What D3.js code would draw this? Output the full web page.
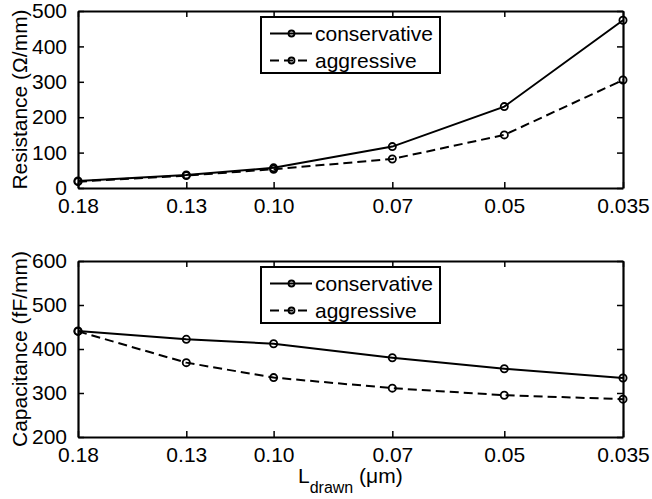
<!DOCTYPE html>
<html>
<head>
<meta charset="utf-8">
<script src="https://cdn.jsdelivr.net/npm/d3@7"></script>
<style>
  html, body { margin: 0; padding: 0; background: #fff; }
  svg { display: block; font-family: "Liberation Sans", Arial, Helvetica, sans-serif; }
</style>
</head>
<body>
<svg id="chart" width="652" height="499"></svg>
<script>
// ---- data ----
const lengths = [0.18, 0.13, 0.10, 0.07, 0.05, 0.035];
const xTickLabels = ["0.18", "0.13", "0.10", "0.07", "0.05", "0.035"];
const seriesNames = ["conservative", "aggressive"];
const resistanceConservative = [20, 37, 57, 117, 230, 474];
const resistanceAggressive = [18, 35, 53, 82, 150, 305];
const capacitanceConservative = [441, 422, 412, 380, 355, 334];
const capacitanceAggressive = [440, 369, 335, 311, 295, 286];
const resistanceTicks = [0, 100, 200, 300, 400, 500];
const capacitanceTicks = [200, 300, 400, 500, 600];

const FS = 21;
const svg = d3.select("#chart");
const left = 78, right = 623;
const x = d3.scaleLog().domain([0.18, 0.035]).range([left, right]);

function panel(cfg) {
  const { top, bottom, yDomain, yTicks, cons, aggr, yLabel, legendY } = cfg;
  const y = d3.scaleLinear().domain(yDomain).range([bottom, top]);
  const g = svg.append("g");
  const tickLen = 6;

  // lines
  const line = d3.line().x((d, i) => x(lengths[i])).y(d => y(d));
  const styles = [{ data: cons, dash: null }, { data: aggr, dash: "9,5" }];
  styles.forEach(s => {
    g.append("path").datum(s.data).attr("d", line)
      .attr("fill", "none").attr("stroke", "#000").attr("stroke-width", 2)
      .attr("stroke-dasharray", s.dash);
    g.selectAll(null).data(s.data).enter().append("circle")
      .attr("cx", (d, i) => x(lengths[i])).attr("cy", d => y(d))
      .attr("r", 3.6).attr("fill", "none").attr("stroke", "#000").attr("stroke-width", 1.8);
  });

  // axes with inward ticks, MATLAB-like box
  const axB = d3.axisBottom(x).tickValues(lengths).tickFormat((d, i) => xTickLabels[i]).tickSizeInner(-tickLen).tickSizeOuter(0).tickPadding(10);
  const axT = d3.axisTop(x).tickValues(lengths).tickFormat("").tickSizeInner(-tickLen).tickSizeOuter(0);
  const axL = d3.axisLeft(y).tickValues(yTicks).tickSizeInner(-tickLen).tickSizeOuter(0).tickPadding(11);
  const axR = d3.axisRight(y).tickValues(yTicks).tickFormat("").tickSizeInner(-tickLen).tickSizeOuter(0);
  const styleAx = sel => {
    sel.selectAll("path.domain").attr("stroke", "#000").attr("stroke-width", 2.2);
    sel.selectAll(".tick line").attr("stroke", "#000").attr("stroke-width", 1.5);
    sel.selectAll(".tick text").attr("fill", "#000").attr("font-size", FS).attr("font-family", "Liberation Sans, Arial, sans-serif");
  };
  g.append("g").attr("transform", `translate(0,${bottom})`).call(axB).call(styleAx);
  g.append("g").attr("transform", `translate(0,${top})`).call(axT).call(styleAx);
  g.append("g").attr("transform", `translate(${left},0)`).call(axL).call(styleAx);
  g.append("g").attr("transform", `translate(${right},0)`).call(axR).call(styleAx);

  // y label
  g.append("text")
    .attr("transform", `translate(27,${(top + bottom) / 2}) rotate(-90)`)
    .attr("text-anchor", "middle").attr("font-size", FS).attr("fill", "#000")
    .text(yLabel);

  // legend
  const lg = g.append("g");
  const lx = 261, lw = 179, lh = 56;
  lg.append("rect").attr("x", lx).attr("y", legendY).attr("width", lw).attr("height", lh)
    .attr("fill", "#fff").attr("stroke", "#000").attr("stroke-width", 2);
  seriesNames.forEach((name, i) => {
    const cy = legendY + 16.5 + i * 27;
    lg.append("line").attr("x1", lx + 9).attr("x2", lx + 51).attr("y1", cy).attr("y2", cy)
      .attr("stroke", "#000").attr("stroke-width", 2).attr("stroke-dasharray", i === 1 ? "9,5" : null);
    lg.append("circle").attr("cx", lx + 30.5).attr("cy", cy).attr("r", 3)
      .attr("fill", "none").attr("stroke", "#000").attr("stroke-width", 1.8);
    lg.append("text").attr("x", lx + 54).attr("y", cy + 7).attr("font-size", FS).attr("fill", "#000").text(name);
  });
}

panel({ top: 11, bottom: 188, yDomain: [0, 500], yTicks: resistanceTicks,
  cons: resistanceConservative, aggr: resistanceAggressive,
  yLabel: "Resistance (\u03A9/mm)", legendY: 17 });
panel({ top: 261, bottom: 437, yDomain: [200, 600], yTicks: capacitanceTicks,
  cons: capacitanceConservative, aggr: capacitanceAggressive,
  yLabel: "Capacitance (fF/mm)", legendY: 267 });

// x label
const xl = svg.append("text").attr("x", 298).attr("y", 483)
  .attr("text-anchor", "start").attr("font-size", FS).attr("fill", "#000");
xl.append("tspan").text("L");
xl.append("tspan").attr("font-size", 16).attr("dy", 10).text("drawn");
xl.append("tspan").attr("dy", -10).text(" (\u03BCm)");
</script>
</body>
</html>
